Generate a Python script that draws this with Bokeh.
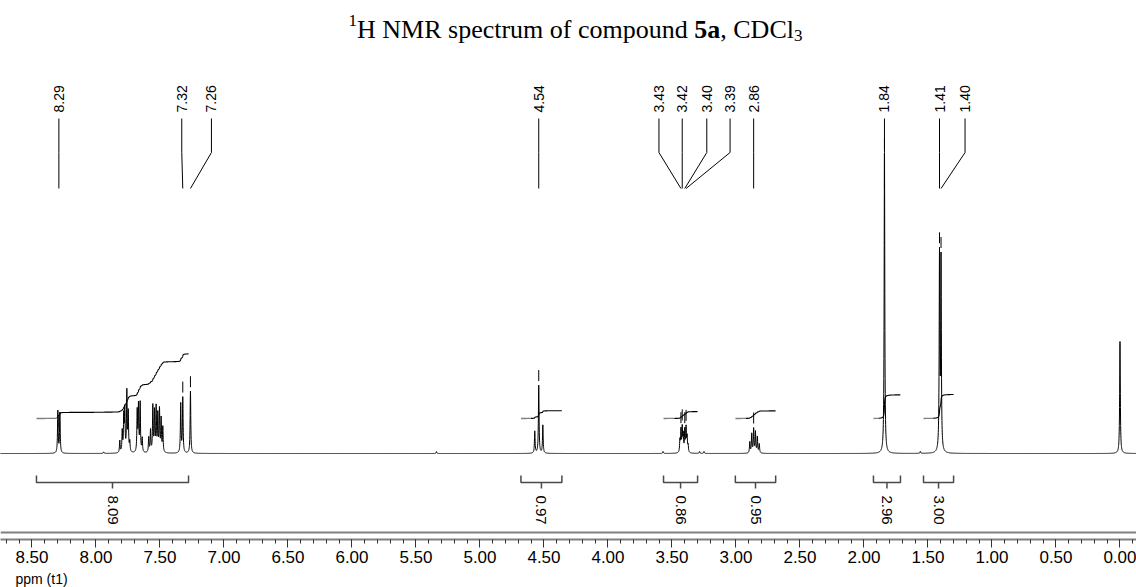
import numpy as np
from bokeh.plotting import figure
from bokeh.layouts import column
from bokeh.models import Range1d, Span, SingleIntervalTicker, NumeralTickFormatter, LinearAxis
from bokeh.core.properties import value
from bokeh.embed import file_html
from bokeh.resources import INLINE

# ---------------- data ----------------
# line positions (ppm) and heights (arbitrary intensity units)
arom_ppm = [8.298, 8.282,
            7.814, 7.795, 7.783, 7.775, 7.759, 7.748, 7.736,
            7.678, 7.668, 7.655, 7.639,
            7.588, 7.574, 7.556, 7.543, 7.530, 7.517, 7.504, 7.491, 7.478,
            7.338, 7.322, 7.262]
arom_h = [42, 40,
          12, 21, 35, 41, 60, 39, 10,
          41, 46, 49, 14,
          15, 22, 46, 40, 44, 37, 42, 33, 25,
          49, 55, 62]
ch_ppm = [4.572, 4.541, 4.509]
ch_h = [22, 68, 28]
m34_ppm = [3.438, 3.430, 3.420, 3.412, 3.400, 3.390, 3.382, 3.374]
m34_h = [12, 22, 24, 17, 22, 24, 15, 7]
m286_ppm = [2.892, 2.877, 2.862, 2.848, 2.833, 2.818]
m286_h = [11, 19, 24, 21, 16, 9]
aliph_ppm = [1.840, 1.410, 1.398, 0.000]
aliph_h = [300, 195, 190, 112]
minor_ppm = [7.94, 5.34, 3.57, 3.285, 3.25, 1.56]
minor_h = [1.5, 2, 2, 2, 2, 2]

picked_labels = ["8.29", "7.32", "7.26", "4.54", "3.43", "3.42", "3.40", "3.39",
                 "2.86", "1.84", "1.41", "1.40"]
picked_ppm = [8.29, 7.322, 7.262, 4.541, 3.430, 3.420, 3.400, 3.390,
              2.862, 1.840, 1.410, 1.398]

integral_values = [8.09, 0.97, 0.86, 0.95, 2.96, 3.00]
integral_from = [8.465, 4.68, 3.566, 3.005, 1.926, 1.535]
integral_to = [7.277, 4.36, 3.30, 2.69, 1.715, 1.30]

x_axis_title = "ppm (t1)"

# ---------------- layout / style constants ----------------
label_shift_px = [0, -1, 21, 0, -22, 0, 22, 44, 0, 0, 0, 24]
PX_PER_PPM = 128.0
HWHM = 0.003

peak_ppm = np.array(arom_ppm + ch_ppm + m34_ppm + m286_ppm + aliph_ppm + minor_ppm)
peak_h = np.array(arom_h + ch_h + m34_h + m286_h + aliph_h + minor_h, dtype=float)

grid = np.union1d(np.arange(-0.13, 8.75, 0.0008), peak_ppm)
spec = np.zeros_like(grid)
for c, h in zip(peak_ppm, peak_h):
    spec += h / (1.0 + ((grid - c) / HWHM) ** 2)

p = figure(width=1136, height=570, x_range=Range1d(8.746, -0.129), y_range=Range1d(-86, 453),
           output_backend="svg", toolbar_location=None, x_axis_location=None, y_axis_location=None,
           min_border=0)
p.min_border_bottom = 31
p.outline_line_color = None
p.xgrid.visible = False
p.ygrid.visible = False
p.background_fill_color = "white"
p.border_fill_color = "white"

# spectrum
p.line(grid, spec, line_color="black", line_width=1)

# integral curves + brackets
K = 8.0
BASE = 35
for v, a, b in zip(integral_values, integral_from, integral_to):
    m = (grid <= a) & (grid >= b)
    xs = grid[m][::-1]
    ys = spec[m][::-1]
    cum = np.cumsum(ys)
    cum = cum / cum[-1]
    curve = BASE + cum * v * K
    idx = int(np.argmax(cum > 0.01))
    p.line(xs[:idx + 1], curve[:idx + 1], line_color="#808080", line_width=1.3)
    p.line(xs[idx:], curve[idx:], line_color="black", line_width=1.1)
    mid = (a + b) / 2
    p.multi_line([[a, a, b, b], [mid, mid]], [[-22, -29, -29, -22], [-29, -35]],
                 line_color="#4a4a4a", line_width=1.5)
    p.text(x=[mid], y=[-42], text=["%.2f" % v], angle=-np.pi / 2, text_align="left",
           text_baseline="middle", text_font=value("Liberation Sans"), text_font_size="15px",
           text_color="black")

# peak picking labels, leader lines and markers
lx = [pp - s / PX_PER_PPM for pp, s in zip(picked_ppm, label_shift_px)]
p.text(x=lx, y=[341] * len(lx), text=picked_labels, angle=np.pi / 2, text_align="left",
       text_baseline="middle", text_font=value("Liberation Sans"), text_font_size="14px",
       text_color="black")
p.multi_line([[x, x, pp, pp] for x, pp in zip(lx, picked_ppm)],
             [[335, 301, 265, 265] for _ in lx], line_color="black", line_width=1)
tops = [spec[(grid > pp - 0.005) & (grid < pp + 0.005)].max() for pp in picked_ppm]
p.segment(x0=picked_ppm, y0=[t + 4 for t in tops], x1=picked_ppm, y1=[t + 15 for t in tops],
          line_color="black", line_width=1)

# title (composed: superscript, bold, subscript)
tx = 6.027
F = 26
TY = 424
p.text(x=[tx], y=[TY + 9], text=["1"], text_font=value("Liberation Serif"), text_font_size="17px",
       text_align="left", text_baseline="alphabetic", text_color="black")
p.text(x=[tx, tx], y=[TY, TY], text=["H NMR spectrum of compound ", ", CDCl"],
       x_offset=[8.5, 8.5 + 13.971 * F], text_font=value("Liberation Serif"),
       text_font_size="%dpx" % F, text_align="left", text_baseline="alphabetic", text_color="black")
p.text(x=[tx], y=[TY], text=["5a"], x_offset=[8.5 + 12.971 * F], text_font=value("Liberation Serif"),
       text_font_size="%dpx" % F, text_font_style="bold", text_align="left",
       text_baseline="alphabetic", text_color="black")
p.text(x=[tx], y=[TY - 6], text=["3"], x_offset=[8.5 + 16.805 * F], text_font=value("Liberation Serif"),
       text_font_size="17px", text_align="left", text_baseline="alphabetic", text_color="black")

# axis
ax = LinearAxis(ticker=SingleIntervalTicker(interval=0.5, num_minor_ticks=5),
                formatter=NumeralTickFormatter(format="0.00"))
ax.axis_line_color = "#808080"
ax.axis_line_width = 2
ax.major_tick_line_color = "#333333"
ax.minor_tick_line_color = "#333333"
ax.major_tick_in = 0
ax.major_tick_out = 8
ax.minor_tick_in = 0
ax.minor_tick_out = 4
ax.major_label_standoff = 3
ax.major_label_text_font = "Liberation Sans"
ax.major_label_text_font_size = "17px"
ax.major_label_text_color = "black"
p.add_layout(ax, "below")
p.add_layout(Span(location=-79, dimension="width", line_color="#808080", line_width=2))

# strip below the axis carrying the left-aligned axis title
p2 = figure(width=1136, height=17, x_range=Range1d(0, 1136), y_range=Range1d(0, 17),
            output_backend="svg", toolbar_location=None, x_axis_location=None,
            y_axis_location=None, min_border=0)
p2.outline_line_color = None
p2.xgrid.visible = False
p2.ygrid.visible = False
p2.text(x=[15], y=[9], text=[x_axis_title], text_font=value("Liberation Sans"),
        text_font_size="14px", text_align="left", text_baseline="middle", text_color="black")

open("out.html", "w").write(file_html(column(p, p2, spacing=0), INLINE))
